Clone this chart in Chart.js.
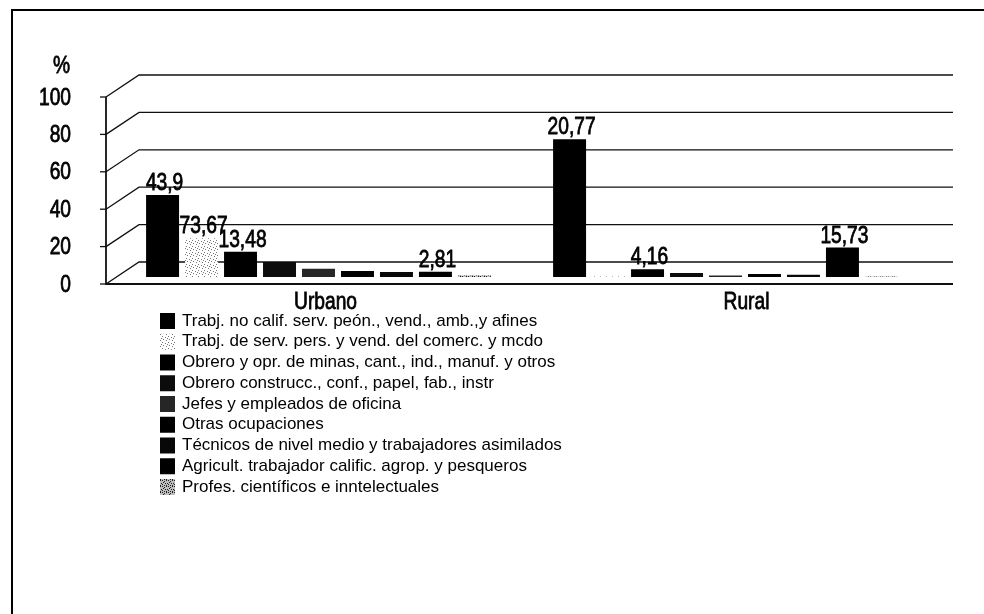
<!DOCTYPE html>
<html>
<head>
<meta charset="utf-8">
<script src="https://cdn.jsdelivr.net/npm/chart.js@4.4.1/dist/chart.umd.min.js"></script>
<style>
  html, body { margin: 0; padding: 0; background: #fff; }
  canvas { display: block; }
</style>
</head>
<body>
<canvas id="chart" width="984" height="614"></canvas>
<script>
// categorias y series
const categories = ['Urbano', 'Rural'];
const seriesNames = [
  'Trabj. no calif. serv. peón., vend., amb.,y afines',
  'Trabj. de serv. pers. y vend. del comerc. y mcdo',
  'Obrero y opr. de minas, cant., ind., manuf. y otros',
  'Obrero construcc., conf., papel, fab., instr',
  'Jefes y empleados de oficina',
  'Otras ocupaciones',
  'Técnicos de nivel medio y trabajadores asimilados',
  'Agricult. trabajador calific. agrop. y pesqueros',
  'Profes. científicos e inntelectuales'
];
const urbanoValues = [43.9, 20.77, 13.48, 8.0, 4.4, 3.2, 2.7, 2.81, 0.8];
const ruralValues = [73.67, 0.3, 4.16, 2.2, 0.8, 1.6, 1.2, 15.73, 0.3];
// etiquetas tal como aparecen en el grafico original
const urbanoLabels = ['43,9', '73,67', '13,48', '', '', '', '', '2,81', ''];
const ruralLabels = ['20,77', '', '4,16', '', '', '', '', '15,73', ''];
const yTicks = [0, 20, 40, 60, 80, 100];

const FONT = "'Liberation Sans', Arial, sans-serif";
const NARROW = 0.8; // simula Arial Narrow

// tramas de puntos para las series claras
function dotPattern(bg, dot, cells) {
  const c = document.createElement('canvas');
  c.width = 6; c.height = 6;
  const g = c.getContext('2d');
  g.fillStyle = bg;
  g.fillRect(0, 0, 6, 6);
  g.fillStyle = dot;
  cells.forEach(p => g.fillRect(p[0], p[1], 1, 1));
  return g.createPattern(c, 'repeat');
}
const lightDots = dotPattern('#ffffff', '#777777', [[0, 0], [3, 1], [1, 3], [4, 4], [5, 2]]);
const grayDots = dotPattern('#bdbdbd', '#202020', [[0, 0], [2, 1], [4, 0], [1, 2], [3, 3], [5, 3], [0, 4], [2, 5], [4, 5]]);
const seriesColors = ['#000', lightDots, '#000', '#0c0c0c', '#262626', '#000', '#080808', '#000', grayDots];

// desplazamiento del plano frontal / fondo respecto a las barras
const FRONT_DX = -9, FRONT_DY = 7, BACK_DX = 24, BACK_DY = -15;
const CAT_LABEL_DX = [7, 21];

function narrowText(ctx, txt, x, y, align) {
  ctx.save();
  ctx.translate(x, y);
  ctx.scale(NARROW, 1);
  ctx.textAlign = align;
  ctx.lineWidth = 0.8;
  ctx.strokeStyle = '#000';
  ctx.fillText(txt, 0, 0);
  ctx.strokeText(txt, 0, 0);
  ctx.restore();
}

const scene3d = {
  id: 'scene3d',
  beforeDatasetsDraw(chart) {
    const { ctx, chartArea, scales } = chart;
    const y = scales.y, x = scales.x;
    const fx = chartArea.left + FRONT_DX;
    const bx = chartArea.left + BACK_DX;
    const right = chartArea.right + BACK_DX;
    ctx.save();
    ctx.strokeStyle = '#111';
    ctx.lineWidth = 1.3;
    yTicks.forEach(v => {
      const py = y.getPixelForValue(v);
      ctx.beginPath();
      ctx.moveTo(fx, py + FRONT_DY);
      ctx.lineTo(bx, py + BACK_DY);
      ctx.lineTo(right, py + BACK_DY);
      ctx.stroke();
      ctx.beginPath();
      ctx.moveTo(fx - 6, py + FRONT_DY);
      ctx.lineTo(fx, py + FRONT_DY);
      ctx.stroke();
    });
    // eje vertical frontal y piso frontal
    ctx.lineWidth = 1.8;
    ctx.beginPath();
    ctx.moveTo(fx, y.getPixelForValue(100) + FRONT_DY);
    ctx.lineTo(fx, y.getPixelForValue(0) + FRONT_DY);
    ctx.lineTo(right, y.getPixelForValue(0) + FRONT_DY);
    ctx.stroke();

    // etiquetas del eje Y
    ctx.fillStyle = '#000';
    ctx.font = '24px ' + FONT;
    ctx.textBaseline = 'middle';
    yTicks.forEach(v => {
      narrowText(ctx, String(v), 71, y.getPixelForValue(v) + FRONT_DY + 1, 'right');
    });
    narrowText(ctx, '%', 70, 66, 'right');

    // categorias
    categories.forEach((c, i) => {
      narrowText(ctx, c, x.getPixelForValue(i) + CAT_LABEL_DX[i], y.getPixelForValue(0) + FRONT_DY + 18, 'center');
    });
    ctx.restore();
  },
  afterDatasetsDraw(chart) {
    const { ctx } = chart;
    ctx.save();
    ctx.fillStyle = '#000';
    ctx.font = '24px ' + FONT;
    ctx.textBaseline = 'alphabetic';
    chart.data.datasets.forEach((ds, di) => {
      const meta = chart.getDatasetMeta(di);
      meta.data.forEach((bar, i) => {
        const txt = ds.valueLabels[i];
        if (txt) narrowText(ctx, txt, bar.x + 2, bar.y - 5, 'center');
      });
    });

    // leyenda
    ctx.font = '17px ' + FONT;
    ctx.textAlign = 'left';
    ctx.textBaseline = 'middle';
    chart.data.datasets.forEach((ds, di) => {
      const ry = 321 + di * 20.75;
      ctx.fillStyle = ds.backgroundColor;
      ctx.fillRect(160, ry - 8, 15, 16);
      ctx.fillStyle = '#000';
      ctx.fillText(ds.label, 182, ry);
    });

    // marco
    ctx.strokeStyle = '#000';
    ctx.lineWidth = 2;
    ctx.beginPath();
    ctx.moveTo(12, 614);
    ctx.lineTo(12, 10);
    ctx.lineTo(984, 10);
    ctx.stroke();
    ctx.restore();
  }
};

const datasets = seriesNames.map((name, i) => ({
  label: name,
  data: [urbanoValues[i], ruralValues[i]],
  valueLabels: [urbanoLabels[i], ruralLabels[i]],
  backgroundColor: seriesColors[i],
  borderWidth: 0,
  categoryPercentage: 0.862,
  barPercentage: 0.846
}));

new Chart(document.getElementById('chart'), {
  type: 'bar',
  data: { labels: categories, datasets: datasets },
  options: {
    responsive: false,
    animation: false,
    layout: { padding: { left: 115, right: 55, top: 90, bottom: 337 } },
    scales: {
      x: { display: false },
      y: { display: false, min: 0, max: 100 }
    },
    plugins: {
      legend: { display: false },
      tooltip: { enabled: false }
    }
  },
  plugins: [scene3d]
});
</script>
</body>
</html>
